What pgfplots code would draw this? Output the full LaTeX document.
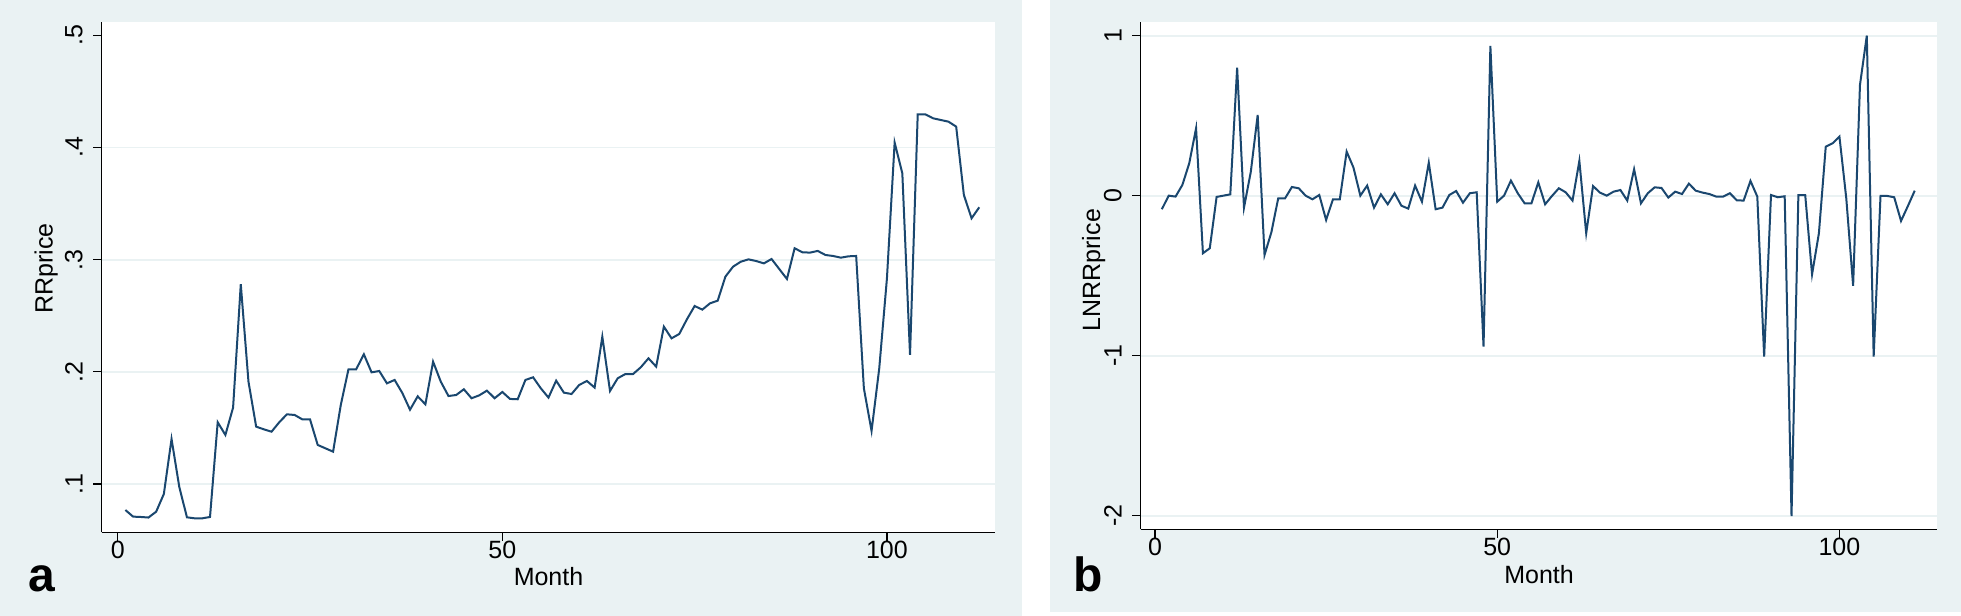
\documentclass[border=0pt]{standalone}
\usepackage{fontspec}
\setmainfont{Liberation Sans}
\usepackage{pgfplots}
\pgfplotsset{compat=1.18}
\definecolor{stbg}{RGB}{234,242,243}
\definecolor{stnavy}{RGB}{26,71,111}
\newcommand{\lblfont}{\fontsize{12.5bp}{15bp}\selectfont}
\pgfplotsset{stata/.style={
  scale only axis,
  axis lines*=left,
  axis line style={black, line width=0.7bp},
  axis background/.style={fill=white},
  tick align=outside,
  major tick length=4.3bp,
  every tick/.style={black, line width=0.6bp},
  ymajorgrids,
  grid style={stbg, line width=0.9bp},
  xtick={0,50,100}, xticklabels={0,50,100},
  minor tick num=0,
  ticklabel style={inner sep=0pt, font=\lblfont},
  yticklabel style={xshift=-5bp, rotate=90, anchor=south},
  xticklabel style={anchor=north},
  clip=false,
}}
\begin{document}
\begin{tikzpicture}
\path[use as bounding box, fill=white] (0,0) rectangle (980.5bp,308bp);
\fill[stbg] (0,0) rectangle (510.85bp,308bp);
\fill[stbg] (525bp,2bp) rectangle (980.5bp,308bp);

\begin{axis}[stata,
  at={(50.85bp,41.85bp)}, anchor=south west,
  width=446.85bp, height=255.3bp,
  xmin=-2.08, xmax=114.1, ymin=0.05704, ymax=0.5121,
  ytick={0.1,0.2,0.3,0.4}, yticklabels={.1,.2,.3,.4},
  extra y ticks={0.5}, extra y tick labels={.5},
  extra y tick style={grid=none},
]
\addplot[stnavy, line width=1bp] coordinates {
(1,0.0769) (2,0.0710) (3,0.0707) (4,0.0702) (5,0.0754) (6,0.0912) (7,0.1402) (8,0.0977)
(9,0.0704) (10,0.0695) (11,0.0695) (12,0.0707) (13,0.1551) (14,0.1438) (15,0.1682) (16,0.2781)
(17,0.1913) (18,0.1512) (19,0.1488) (20,0.1467) (21,0.1551) (22,0.1622) (23,0.1616) (24,0.1577)
(25,0.1577) (26,0.1349) (27,0.1319) (28,0.1289) (29,0.1705) (30,0.2023) (31,0.2023) (32,0.2157)
(33,0.1996) (34,0.2008) (35,0.1898) (36,0.1928) (37,0.1812) (38,0.1663) (39,0.1782) (40,0.1711)
(41,0.2091) (42,0.1913) (43,0.1785) (44,0.1794) (45,0.1845) (46,0.1765) (47,0.1791) (48,0.1833)
(49,0.1765) (50,0.1821) (51,0.1759) (52,0.1756) (53,0.1928) (54,0.1952) (55,0.1854) (56,0.1771)
(57,0.1922) (58,0.1815) (59,0.1803) (60,0.1884) (61,0.1919) (62,0.1860) (63,0.2314) (64,0.1830)
(65,0.1943) (66,0.1981) (67,0.1981) (68,0.2041) (69,0.2121) (70,0.2047) (71,0.2403) (72,0.2299)
(73,0.2338) (74,0.2469) (75,0.2587) (76,0.2555) (77,0.2611) (78,0.2635) (79,0.2849) (80,0.2938)
(81,0.2982) (82,0.3003) (83,0.2988) (84,0.2967) (85,0.3006) (86,0.2917) (87,0.2828) (88,0.3102)
(89,0.3066) (90,0.3063) (91,0.3078) (92,0.3042) (93,0.3033) (94,0.3018) (95,0.3030) (96,0.3033)
(97,0.1854) (98,0.1474) (99,0.2032) (100,0.2834) (101,0.4043) (102,0.3770) (103,0.2151) (104,0.4295)
(105,0.4295) (106,0.4260) (107,0.4245) (108,0.4230) (109,0.4186) (110,0.3577) (111,0.3369) (112,0.3467)
};
\end{axis}

\begin{axis}[stata,
  at={(570.35bp,43.35bp)}, anchor=south west,
  width=398.3bp, height=253.8bp,
  xmin=-2.09, xmax=114.3, ymin=-2.085, ymax=1.087,
  ytick={-2,-1,0,1}, yticklabels={-2,-1,0,1},
]
\addplot[stnavy, line width=1bp] coordinates {
(1,-0.085) (2,0.000) (3,-0.006) (4,0.067) (5,0.202) (6,0.421) (7,-0.360) (8,-0.329)
(9,-0.008) (10,0.000) (11,0.008) (12,0.800) (13,-0.075) (14,0.150) (15,0.504) (16,-0.371)
(17,-0.229) (18,-0.017) (19,-0.017) (20,0.054) (21,0.046) (22,0.000) (23,-0.023) (24,0.004)
(25,-0.152) (26,-0.023) (27,-0.023) (28,0.275) (29,0.175) (30,0.000) (31,0.063) (32,-0.075)
(33,0.008) (34,-0.054) (35,0.015) (36,-0.063) (37,-0.081) (38,0.063) (39,-0.038) (40,0.206)
(41,-0.085) (42,-0.075) (43,0.004) (44,0.029) (45,-0.044) (46,0.015) (47,0.021) (48,-0.944)
(49,0.935) (50,-0.038) (51,0.000) (52,0.094) (53,0.015) (54,-0.048) (55,-0.048) (56,0.083)
(57,-0.054) (58,-0.002) (59,0.046) (60,0.021) (61,-0.031) (62,0.217) (63,-0.235) (64,0.060)
(65,0.019) (66,0.000) (67,0.025) (68,0.035) (69,-0.031) (70,0.165) (71,-0.048) (72,0.015)
(73,0.052) (74,0.048) (75,-0.012) (76,0.025) (77,0.010) (78,0.075) (79,0.031) (80,0.019)
(81,0.010) (82,-0.006) (83,-0.006) (84,0.015) (85,-0.029) (86,-0.031) (87,0.092) (88,-0.006)
(89,-1.006) (90,0.004) (91,-0.010) (92,-0.004) (93,-2.002) (94,0.004) (95,0.004) (96,-0.492)
(97,-0.235) (98,0.306) (99,0.327) (100,0.369) (101,-0.017) (102,-0.563) (103,0.692) (104,1.000)
(105,-1.006) (106,-0.002) (107,-0.002) (108,-0.010) (109,-0.158) (110,-0.065) (111,0.031)
};
\end{axis}

\node[rotate=90, anchor=base, inner sep=0pt, font=\lblfont] at (26.35bp,173.7bp) {RRprice};
\node[anchor=base, inner sep=0pt, font=\lblfont] at (274.25bp,15.25bp) {Month};
\node[rotate=90, anchor=base, inner sep=0pt, font=\lblfont] at (550bp,172.9bp) {LNRRprice};
\node[anchor=base, inner sep=0pt, font=\lblfont] at (769.5bp,16.5bp) {Month};

\node[anchor=base west, inner sep=0pt, font=\bfseries\fontsize{24bp}{28bp}\selectfont] at (14.15bp,12.3bp) {a};
\node[anchor=base west, inner sep=0pt, font=\bfseries\fontsize{24bp}{28bp}\selectfont] at (536.65bp,12.3bp) {b};
\end{tikzpicture}
\end{document}
